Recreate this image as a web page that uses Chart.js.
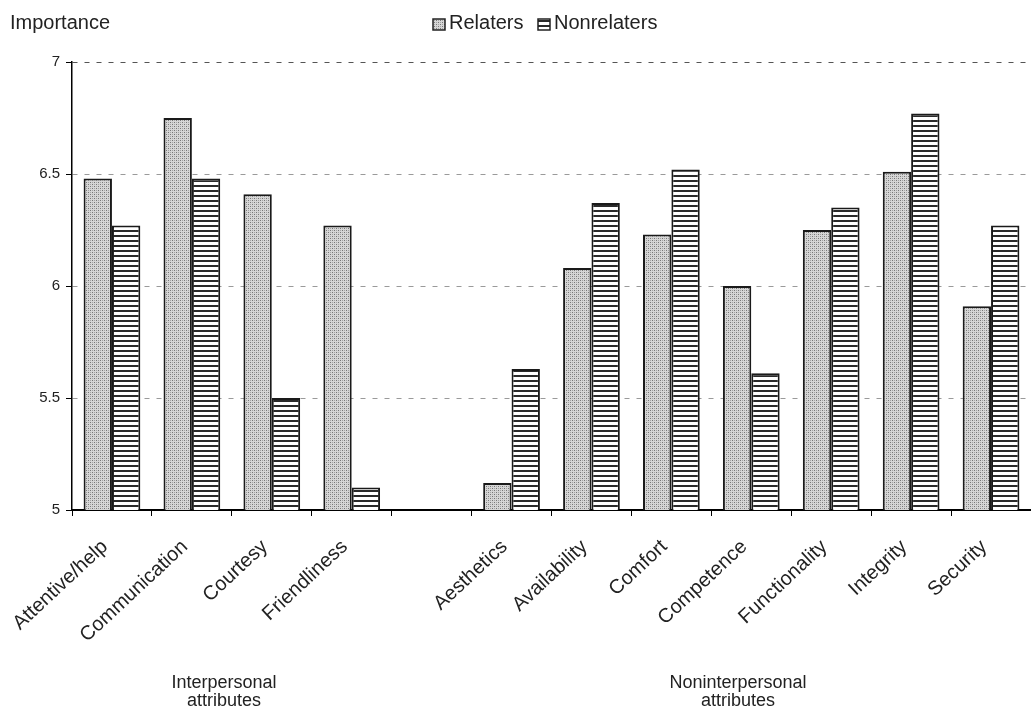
<!DOCTYPE html>
<html>
<head>
<meta charset="utf-8">
<title>Importance by attribute</title>
<script src="https://cdn.jsdelivr.net/npm/chart.js@4.4.1/dist/chart.umd.min.js"></script>
<style>
  html, body { margin: 0; padding: 0; background: #fff; }
</style>
</head>
<body>
<canvas id="chart" width="1031" height="711"></canvas>
<script>
(function(){

    "use strict"

    // data
    const categories = ["Attentive/help", "Communication", "Courtesy", "Friendliness", "",
        "Aesthetics", "Availability", "Comfort", "Competence", "Functionality", "Integrity", "Security"];
    const relaters = [6.48, 6.75, 6.41, 6.27, null, 5.12, 6.08, 6.23, 6.00, 6.25, 6.51, 5.91];
    const nonrelaters = [6.27, 6.48, 5.50, 5.10, null, 5.63, 6.37, 6.52, 5.61, 6.35, 6.77, 6.27];
    const yTicks = [5, 5.5, 6, 6.5, 7];
    const seriesNames = ["Relaters", "Nonrelaters"];
    const groupNames = [["Interpersonal", "attributes"], ["Noninterpersonal", "attributes"]];

    const FONT = '"Liberation Sans", Arial, Helvetica, sans-serif';
    const INK = "#222";

    Chart.defaults.font.family = FONT;
    Chart.defaults.color = INK;

    // stipple fill for relaters
    function dotPattern() {
        const c = document.createElement("canvas");
        c.width = 4; c.height = 4;
        const g = c.getContext("2d");
        g.fillStyle = "#d6d6d6";
        g.fillRect(0, 0, 4, 4);
        g.fillStyle = "#777";
        g.fillRect(0, 0, 1, 1);
        g.fillRect(2, 2, 1, 1);
        g.fillStyle = "#a4a4a4";
        g.fillRect(2, 0, 1, 1);
        g.fillRect(0, 2, 1, 1);
        return g.createPattern(c, "repeat");
    }

    // horizontal stripes for nonrelaters
    function linePattern() {
        const c = document.createElement("canvas");
        c.width = 4; c.height = 5;
        const g = c.getContext("2d");
        g.fillStyle = "#fff";
        g.fillRect(0, 0, 4, 5);
        g.fillStyle = "#2a2a2a";
        g.fillRect(0, 0, 4, 2);
        return g.createPattern(c, "repeat");
    }

    // title, legend and group captions
    const annotate = {
        id: "annotate",
        afterDraw(chart) {
            const ctx = chart.ctx;
            ctx.save();
            ctx.fillStyle = INK;
            ctx.font = "20px " + FONT;
            ctx.textAlign = "left";
            ctx.textBaseline = "alphabetic";
            ctx.fillText("Importance", 10, 29);

            const boxX = [433, 538];
            chart.data.datasets.forEach((ds, i) => {
                ctx.fillStyle = ds.backgroundColor;
                ctx.fillRect(boxX[i], 19, 12, 11);
                ctx.strokeStyle = INK;
                ctx.lineWidth = 1.5;
                ctx.strokeRect(boxX[i], 19, 12, 11);
                ctx.fillStyle = INK;
                ctx.fillText(ds.label, boxX[i] + 16, 29);
            });

            ctx.font = "18px " + FONT;
            ctx.textAlign = "center";
            const groupX = [224, 738];
            groupNames.forEach((lines, i) => {
                lines.forEach((t, j) => ctx.fillText(t, groupX[i], 688 + j * 18));
            });
            ctx.restore();
        }
    };

    const ctx = document.getElementById("chart").getContext("2d");

    new Chart(ctx, {
        type: "bar",
        data: {
            labels: categories,
            datasets: [{
                label: seriesNames[0],
                data: relaters,
                backgroundColor: dotPattern(),
                borderColor: "#1a1a1a",
                borderWidth: 2
            }, {
                label: seriesNames[1],
                data: nonrelaters,
                backgroundColor: linePattern(),
                borderColor: "#1a1a1a",
                borderWidth: 2
            }]
        },
        options: {
            responsive: false,
            animation: false,
            categoryPercentage: 0.71,
            barPercentage: 1.0,
            layout: { padding: { top: 62, right: 0, left: 0, bottom: 0 } },
            plugins: {
                legend: { display: false },
                tooltip: { enabled: false }
            },
            scales: {
                x: {
                    offset: true,
                    grid: { drawOnChartArea: false, drawTicks: true, tickLength: 6, color: "#000", offset: true },
                    border: { color: "#000", width: 2 },
                    ticks: {
                        autoSkip: false,
                        minRotation: 43,
                        maxRotation: 43,
                        padding: 19,
                        labelOffset: -7,
                        color: INK,
                        font: { size: 20 }
                    },
                    afterFit(scale) { scale.height = 201; }
                },
                y: {
                    min: 5,
                    max: 7,
                    afterBuildTicks(scale) { scale.ticks = yTicks.map(v => ({ value: v })); },
                    ticks: {
                        padding: 6,
                        color: INK,
                        font: { size: 15 },
                        callback: v => String(v)
                    },
                    grid: {
                        color: c => c.tick && c.tick.value === 5 ? "rgba(0,0,0,0)" : (c.tick && c.tick.value === 7 ? "#555" : "#9a9a9a"),
                        tickColor: "#000",
                        tickLength: 6,
                        lineWidth: 1
                    },
                    border: { color: "#000", width: 1.5, dash: [5, 7] },
                    afterFit(scale) { scale.width = 72; }
                }
            }
        },
        plugins: [annotate]
    });

}());
</script>
</body>
</html>
